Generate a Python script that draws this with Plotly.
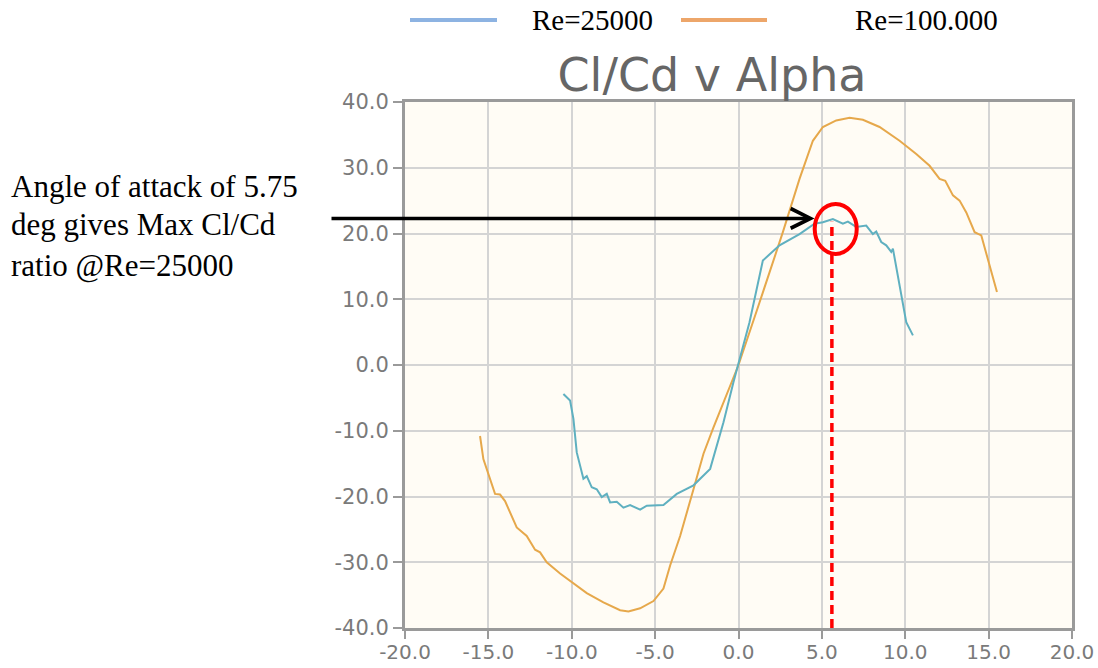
import plotly.graph_objects as go

# ---- data ----
alpha_re100k = [-15.5, -15.3, -14.6, -14.3, -14.0, -13.3, -12.7, -12.2, -11.9, -11.5, -10.7, -9.9,
                -9.1, -8.1, -7.1, -6.6, -5.9, -5.1, -4.5, -4.1, -3.5, -2.7, -2.1, -1.5, -0.3, 0.0,
                1.26, 2.66, 3.66, 4.46, 5.06, 5.86, 6.66, 7.46, 8.46, 9.66, 10.66, 11.46, 12.06,
                12.4, 12.86, 13.26, 13.66, 14.16, 14.56, 15.06, 15.5]
clcd_re100k = [-10.8, -14.3, -19.6, -19.7, -20.7, -24.7, -26.0, -28.1, -28.5, -30.0, -31.7, -33.2,
               -34.7, -36.1, -37.3, -37.5, -37.0, -35.9, -34.0, -30.5, -26.0, -18.9, -13.5, -9.5, -2.1, 0.0,
               9.5, 20.2, 28.3, 34.1, 36.2, 37.2, 37.6, 37.3, 36.2, 34.1, 32.1, 30.3, 28.3,
               28.0, 25.8, 25.0, 23.2, 20.2, 19.7, 15.1, 11.1]

alpha_re25k = [-10.5, -10.1, -9.9, -9.7, -9.3, -9.1, -8.8, -8.5, -8.2, -7.9, -7.7, -7.3, -6.9, -6.5,
               -5.9, -5.5, -4.5, -3.7, -2.7, -1.7, -0.9, -0.3, 0.66, 1.46, 2.46, 3.66, 4.56, 5.06,
               5.66, 6.26, 6.56, 7.06, 7.66, 8.06, 8.26, 8.56, 8.86, 9.16, 9.26, 9.56, 9.86, 10.06, 10.46]
clcd_re25k = [-4.4, -5.4, -8.2, -13.3, -17.3, -16.9, -18.6, -18.9, -20.1, -19.6, -20.9, -20.8, -21.7, -21.3,
              -22.0, -21.4, -21.3, -19.6, -18.3, -15.8, -8.7, -2.6, 6.5, 15.9, 18.2, 19.9, 21.5, 21.7,
              22.2, 21.5, 21.8, 21.0, 21.2, 19.9, 20.3, 18.7, 18.2, 17.2, 17.7, 13.6, 9.5, 6.5, 4.5]

x_ticks = [-20, -15, -10, -5, 0, 5, 10, 15, 20]
x_tick_labels = ["-20.0", "-15.0", "-10.0", "-5.0", "0.0", "5.0", "10.0", "15.0", "20.0"]
y_ticks = [-40, -30, -20, -10, 0, 10, 20, 30, 40]
y_tick_labels = ["-40.0", "-30.0", "-20.0", "-10.0", "0.0", "10.0", "20.0", "30.0", "40.0"]

max_alpha = 5.6          # dashed marker line
circle_center = (5.83, 20.7)
arrow_tip = (4.56, 22.3)

legend_names = ["Re=25000", "Re=100.000"]
note_lines = ["Angle of attack of 5.75", "deg gives Max Cl/Cd", "ratio @Re=25000"]

# ---- styling ----
ORANGE = "#E6A84B"
TEAL = "#5FB0C0"
LEG_BLUE = "#8DB3E2"
LEG_ORANGE = "#EDA66A"
FRAME = "#9A9A9A"
GRID = "#D4D4D4"

fig = go.Figure()
fig.add_trace(go.Scatter(x=alpha_re100k, y=clcd_re100k, mode="lines",
                         line=dict(color=ORANGE, width=2), name=legend_names[1], showlegend=False))
fig.add_trace(go.Scatter(x=alpha_re25k, y=clcd_re25k, mode="lines",
                         line=dict(color=TEAL, width=2), name=legend_names[0], showlegend=False))

W, H = 1098, 668
L, R, T, B = 405, 26, 102, 40
pw, ph = W - L - R, H - T - B


def px_x(p):
    return (p - L) / pw


def px_y(p):
    return (H - B - p) / ph


axis_common = dict(showgrid=True, gridcolor=GRID, gridwidth=1.5, zeroline=False,
                   showline=True, mirror=True, linecolor=FRAME, linewidth=3,
                   tickcolor=FRAME, tickwidth=2, automargin=False, ticks="outside")

fig.update_xaxes(range=[-20, 20], tickvals=x_ticks, ticktext=x_tick_labels, ticklen=8,
                 ticklabelstandoff=-4,
                 tickfont=dict(family="DejaVu Sans", size=20, color="#7A7A7A"), **axis_common)
fig.update_yaxes(range=[-40, 40], tickvals=y_ticks, ticktext=y_tick_labels, ticklen=9,
                 tickfont=dict(family="DejaVu Sans", size=21, color="#7A7A7A"), **axis_common)

shapes = []
# red dashed line
shapes.append(dict(type="line", xref="x", yref="y", x0=max_alpha, x1=max_alpha,
                   y0=-40, y1=21.8, line=dict(color="#FF0000", width=3.5, dash="9px,5px")))
# red ellipse
shapes.append(dict(type="circle", xref="x", yref="y",
                   x0=circle_center[0] - 1.26, x1=circle_center[0] + 1.26,
                   y0=circle_center[1] - 3.8, y1=circle_center[1] + 3.8,
                   line=dict(color="#FF0000", width=4)))
# custom legend lines
shapes.append(dict(type="line", xref="paper", yref="paper", x0=px_x(410), x1=px_x(497),
                   y0=px_y(20), y1=px_y(20), line=dict(color=LEG_BLUE, width=4)))
shapes.append(dict(type="line", xref="paper", yref="paper", x0=px_x(681), x1=px_x(767),
                   y0=px_y(20), y1=px_y(20), line=dict(color=LEG_ORANGE, width=4)))

annotations = []
annotations.append(dict(xref="paper", yref="paper", x=px_x(530), y=px_y(20), text=legend_names[0],
                        showarrow=False, xanchor="left", yanchor="middle",
                        font=dict(family="Liberation Serif", size=29, color="#000000")))
annotations.append(dict(xref="paper", yref="paper", x=px_x(853), y=px_y(20), text=legend_names[1],
                        showarrow=False, xanchor="left", yanchor="middle",
                        font=dict(family="Liberation Serif", size=29, color="#000000")))
for line_text, ypix in zip(note_lines, [186, 225, 265]):
    annotations.append(dict(xref="paper", yref="paper", x=px_x(9), y=px_y(ypix), text=line_text,
                            showarrow=False, xanchor="left", yanchor="middle",
                            font=dict(family="Liberation Serif", size=31, color="#000000")))
# black arrow
annotations.append(dict(xref="x", yref="y", x=arrow_tip[0], y=arrow_tip[1], text="",
                        showarrow=True, ax=-(L + (arrow_tip[0] + 20) / 40 * pw - 330), ay=0,
                        arrowhead=5, arrowsize=1.1, arrowwidth=3.5, arrowcolor="#000000"))

fig.update_layout(
    width=W, height=H,
    margin=dict(l=L, r=R, t=T, b=B, pad=0, autoexpand=False),
    paper_bgcolor="#FFFFFF", plot_bgcolor="#FFFCF5",
    title=dict(text="Cl/Cd v Alpha", x=712 / W, xanchor="center", xref="container",
               y=1 - 75 / H, yanchor="middle", yref="container",
               font=dict(family="DejaVu Sans", size=46, color="#666666")),
    shapes=shapes, annotations=annotations, showlegend=False,
)

fig.write_html("out.html")
